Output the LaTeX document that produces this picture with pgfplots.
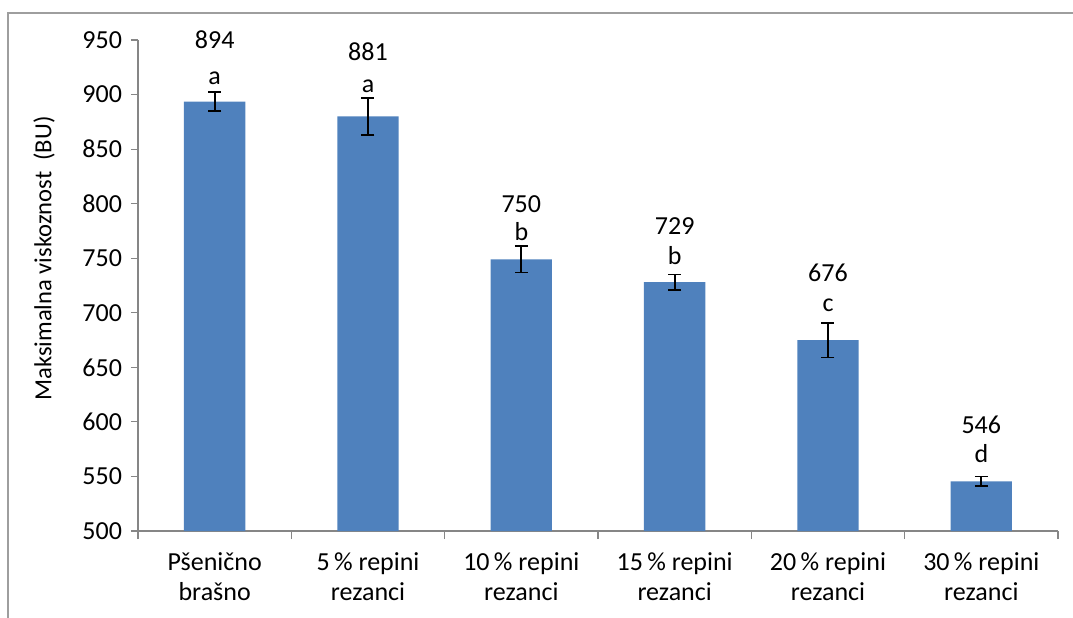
\documentclass[border=0pt]{standalone}
\usepackage{pgfplots}
\pgfplotsset{compat=1.18}
\usepackage{fontspec}
\setmainfont{Carlito}
\definecolor{barblue}{RGB}{79,129,189}
\definecolor{axgray}{RGB}{134,134,134}
\begin{document}
\begin{tikzpicture}
\path[use as bounding box] (0,0) rectangle (536.5pt,308.5pt);
\draw[line width=1pt, color=axgray!80] (4pt,-10pt) rectangle (560pt,302pt);
\begin{axis}[
  at={(69pt,43pt)}, anchor=south west,
  scale only axis, width=460pt, height=245.5pt,
  xmin=-0.5, xmax=5.5, ymin=500, ymax=950,
  axis x line=bottom, axis y line=left,
  axis line style={-, color=axgray, line width=0.6pt},
  ytick={500,550,...,950},
  xtick={0,...,5},
  xticklabels={Pšenično\\brašno, 5\,\% repini\\rezanci, 10\,\% repini\\rezanci, 15\,\% repini\\rezanci, 20\,\% repini\\rezanci, 30\,\% repini\\rezanci},
  minor xtick={-0.5,0.5,1.5,2.5,3.5,4.5,5.5},
  major x tick style={draw=none},
  tick align=outside,
  tick style={color=axgray, line width=0.6pt},
  major tick length=3.5pt, minor tick length=4pt,
  /pgf/number format/assume math mode=true,
  tick label style={font=\fontsize{13}{15}\selectfont, color=black},
  yticklabel style={xshift=-1pt},
  xticklabel style={align=center, yshift=-4pt},
  clip=false,
]
\addplot[ybar, bar width=0.4, fill=barblue, draw=none,
  error bars/.cd, y dir=both, y explicit,
  error bar style={black, line width=0.9pt},
  error mark options={rotate=90, mark size=3.25pt, line width=0.9pt, black}]
  coordinates {
    (0,893.5) +- (0,8.5)
    (1,880) +- (0,17)
    (2,749) +- (0,12)
    (3,728) +- (0,7)
    (4,675) +- (0,16)
    (5,545.5) +- (0,4.5)
  };
\tikzset{lbl/.style={anchor=base, font=\fontsize{13}{15}\selectfont}}
\node[lbl] at (axis cs:0,941.8) {894};
\node[lbl] at (axis cs:0,908.8) {a};
\node[lbl] at (axis cs:1,930.8) {881};
\node[lbl] at (axis cs:1,902.3) {a};
\node[lbl] at (axis cs:2,792.0) {750};
\node[lbl] at (axis cs:2,765.8) {b};
\node[lbl] at (axis cs:3,772.2) {729};
\node[lbl] at (axis cs:3,744.7) {b};
\node[lbl] at (axis cs:4,728.5) {676};
\node[lbl] at (axis cs:4,701.0) {c};
\node[lbl] at (axis cs:5,589.5) {546};
\node[lbl] at (axis cs:5,562.9) {d};
\end{axis}
\node[rotate=90, font=\fontsize{12.3}{14}\selectfont] at (22pt,179.25pt) {Maksimalna viskoznost\ \ (BU)};
\end{tikzpicture}
\end{document}
